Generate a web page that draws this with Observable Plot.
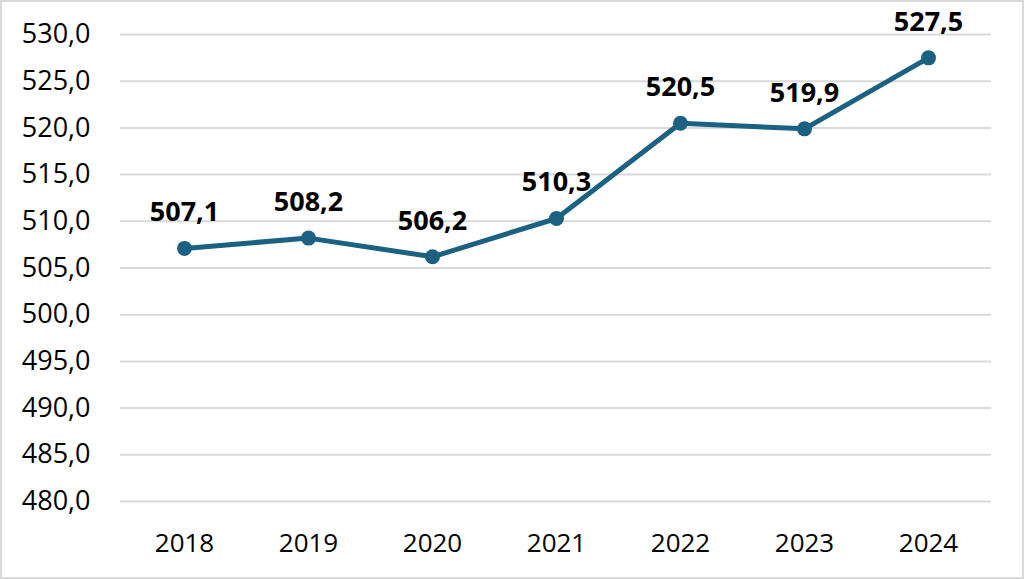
<!DOCTYPE html>
<html><head><meta charset="utf-8">
<script src="https://cdn.jsdelivr.net/npm/d3@7"></script>
<script src="https://cdn.jsdelivr.net/npm/@observablehq/plot@0.6"></script>
<style>
html,body{margin:0;padding:0;background:#fff;}
#wrap{position:relative;width:1024px;height:579px;}
#border{position:absolute;left:0;top:0;width:1020px;height:575px;border:2px solid #d9d9d9;pointer-events:none;}
</style>
</head><body>
<div id="wrap"><div id="chart"></div><div id="border"></div></div>
<script>
const years = ["2018","2019","2020","2021","2022","2023","2024"];
const values = [507.1, 508.2, 506.2, 510.3, 520.5, 519.9, 527.5];
const yTicks = [480,485,490,495,500,505,510,515,520,525,530];

const data = years.map((y,i)=>({year:y, value:values[i]}));
const fmt = d => d.toFixed(1).replace(".", ",");
const color = "#1b6282";

const chart = Plot.plot({
  width: 1024, height: 579,
  marginLeft: 120, marginRight: 33, marginTop: 34, marginBottom: 78,
  style: {fontFamily: "'Open Sans', 'Noto Sans', sans-serif", background: "#fff", color: "#000"},
  x: {type: "point", domain: years, padding: 0.5, label: null},
  y: {domain: [480, 530], label: null},
  marks: [
    Plot.gridY(yTicks, {stroke: "#d9d9d9", strokeOpacity: 1, strokeWidth: 2}),
    Plot.axisY(yTicks, {tickFormat: fmt, tickSize: 0, tickPadding: 30, fontSize: 27, fill: "#000", label: null}),
    Plot.axisX({tickSize: 0, tickPadding: 32, fontSize: 26, fill: "#000", label: null}),
    Plot.line(data, {x: "year", y: "value", stroke: color, strokeWidth: 5}),
    Plot.dot(data, {x: "year", y: "value", fill: color, r: 7.5}),
    Plot.text(data, {x: "year", y: "value", text: d => fmt(d.value), lineAnchor: "bottom", dy: -27, fontSize: 27, fontWeight: "bold", fill: "#000"})
  ]
});
document.getElementById("chart").append(chart);
</script>
</body></html>
